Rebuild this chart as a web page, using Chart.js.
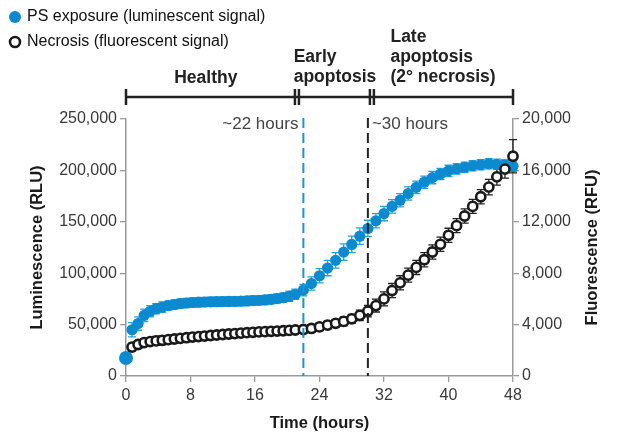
<!DOCTYPE html>
<html>
<head>
<meta charset="utf-8">
<script src="https://cdn.jsdelivr.net/npm/chart.js@4"></script>
<style>
  html, body { margin: 0; padding: 0; background: #fff; }
  #wrap { width: 617px; height: 434px; position: relative; }
</style>
</head>
<body>
<div id="wrap"><canvas id="grafico"></canvas></div>
<script>
// tempo de leitura (horas)
const horas = [0, 0.75, 1.5, 2.25, 3, 3.75, 4.5, 5.25, 6, 6.75, 7.5, 8.25, 9, 9.75, 10.5, 11.25,
  12, 12.75, 13.5, 14.25, 15, 15.75, 16.5, 17.25, 18, 18.75, 19.5, 20.25, 21,
  22, 23, 24, 25, 26, 27, 28, 29, 30, 31, 32, 33, 34, 35, 36, 37, 38, 39, 40,
  41, 42, 43, 44, 45, 46, 47, 48];

// PS exposure (RLU)
const luminescencia = [17500, 45000, 51000, 59000, 63000, 65500, 67000, 68500, 69500, 70500, 71000, 71500, 71800, 72000, 72200, 72300,
  72400, 72500, 72600, 72800, 73000, 73300, 73600, 74000, 74600, 75300, 76200, 77500, 79500,
  83500, 90000, 97500, 105000, 112500, 120500, 128000, 136000, 143500, 151000, 158000, 165000, 171000, 177500, 183500, 188500, 193000, 196500, 199500,
  201500, 203000, 204500, 205500, 206500, 206000, 205000, 204000];
const erroLum = [0, 7000, 6500, 6000, 5500, 5000, 5000, 4500, 4500, 4500, 4500, 4500, 4500, 4500, 4500, 4500,
  4500, 4500, 4500, 4500, 4500, 4500, 4500, 4500, 4500, 4500, 4500, 5000, 5000,
  5500, 6500, 7000, 7500, 7500, 8000, 8000, 8000, 8000, 7000, 7000, 6500, 6500, 6500, 6000, 6000, 6000, 5500, 5500,
  5000, 5000, 5000, 5000, 5000, 5000, 5000, 5000];

// Necrosis (RFU)
const fluorescencia = [null, 2250, 2450, 2600, 2680, 2730, 2780, 2830, 2880, 2930, 2980, 3030, 3070, 3110, 3150, 3190,
  3230, 3270, 3300, 3340, 3370, 3400, 3430, 3450, 3480, 3500, 3520, 3550, 3580,
  3620, 3700, 3820, 3960, 4100, 4250, 4450, 4720, 5050, 5480, 6000, 6650, 7250, 7850, 8450, 9050, 9650, 10250, 10950,
  11700, 12450, 13200, 13950, 14700, 15500, 16100, 17100];
const erroFluor = [0, 300, 300, 300, 300, 350, 350, 300, 300, 300, 300, 300, 300, 300, 300, 250,
  250, 250, 250, 250, 250, 250, 250, 250, 250, 250, 250, 250, 250,
  300, 300, 300, 300, 300, 350, 350, 400, 450, 500, 550, 550, 550, 550, 550, 550, 550, 550, 550,
  550, 550, 550, 550, 600, 650, 700, 1300];

const ticksHoras = [0, 8, 16, 24, 32, 40, 48];
const ticksLum = [0, 50000, 100000, 150000, 200000, 250000];
const ticksFluor = [0, 4000, 8000, 12000, 16000, 20000];

// fases (horas) e marcos
const limitesFases = [0, 21.2, 30.5, 48];
const marcos = [22, 30];

const AZUL = '#0b8ad0';
const FONTE = "'Liberation Sans', Arial, sans-serif";

const fmt = v => v.toLocaleString('en-US');

// barras de erro desenhadas pelas escalas
const barrasErro = {
  id: 'barrasErro',
  beforeDatasetsDraw(chart) {
    const ctx = chart.ctx;
    const xs = chart.scales.x;
    chart.data.datasets.forEach(ds => {
      const ys = chart.scales[ds.yAxisID];
      ctx.save();
      ctx.strokeStyle = ds.corErro;
      ctx.lineWidth = 1.3;
      ds.data.forEach((p, j) => {
        const e = ds.erros[j];
        if (p.y == null || !e) return;
        const x = xs.getPixelForValue(p.x);
        const y1 = ys.getPixelForValue(p.y + e);
        const y2 = ys.getPixelForValue(p.y - e);
        ctx.beginPath();
        ctx.moveTo(x, y1); ctx.lineTo(x, y2);
        ctx.moveTo(x - 4, y1); ctx.lineTo(x + 4, y1);
        ctx.moveTo(x - 4, y2); ctx.lineTo(x + 4, y2);
        ctx.stroke();
      });
      ctx.restore();
    });
  }
};

// linhas tracejadas, fases, legenda e titulos
const anotacoes = {
  id: 'anotacoes',
  afterDatasetsDraw(chart) {
    const ctx = chart.ctx;
    const xs = chart.scales.x;
    const area = chart.chartArea;
    ctx.save();
    ctx.lineWidth = 2;
    ctx.setLineDash([10, 5]);
    ['#1a95d8', '#222'].forEach((cor, i) => {
      const x = xs.getPixelForValue(marcos[i]);
      ctx.strokeStyle = cor;
      ctx.beginPath();
      ctx.moveTo(x, area.top - 1);
      ctx.lineTo(x, area.bottom);
      ctx.stroke();
    });
    ctx.setLineDash([]);
    ctx.fillStyle = '#444';
    ctx.font = '17px ' + FONTE;
    ctx.textBaseline = 'middle';
    ctx.textAlign = 'right';
    ctx.fillText('~' + marcos[0] + ' hours', xs.getPixelForValue(marcos[0]) - 5, 124);
    ctx.textAlign = 'left';
    ctx.fillText('~' + marcos[1] + ' hours', xs.getPixelForValue(marcos[1]) + 4, 124);
    ctx.restore();
  },
  afterDraw(chart) {
    const ctx = chart.ctx;
    const xs = chart.scales.x;
    const area = chart.chartArea;
    ctx.save();
    // barra das fases
    const yb = 97;
    ctx.strokeStyle = '#222';
    ctx.lineWidth = 2.5;
    ctx.beginPath();
    ctx.moveTo(xs.getPixelForValue(limitesFases[0]), yb);
    ctx.lineTo(xs.getPixelForValue(limitesFases[3]), yb);
    ctx.stroke();
    limitesFases.forEach((h, i) => {
      const x = xs.getPixelForValue(h);
      const dx = (i === 0 || i === limitesFases.length - 1) ? [0] : [-2, 2];
      dx.forEach(d => {
        ctx.beginPath();
        ctx.moveTo(x + d, yb - 8);
        ctx.lineTo(x + d, yb + 8);
        ctx.stroke();
      });
    });
    ctx.fillStyle = '#222';
    ctx.font = 'bold 17.5px ' + FONTE;
    ctx.textBaseline = 'middle';
    ctx.textAlign = 'center';
    ctx.fillText('Healthy', xs.getPixelForValue(9.9), 78);
    ctx.textAlign = 'left';
    ctx.fillText('Early', xs.getPixelForValue(20.8), 57);
    ctx.fillText('apoptosis', xs.getPixelForValue(20.8), 77);
    ctx.fillText('Late', xs.getPixelForValue(32.8), 37);
    ctx.fillText('apoptosis', xs.getPixelForValue(32.8), 57);
    ctx.fillText('(2\u00b0 necrosis)', xs.getPixelForValue(32.8), 77);

    // legenda
    ctx.fillStyle = AZUL;
    ctx.beginPath();
    ctx.arc(15, 17, 6, 0, Math.PI * 2);
    ctx.fill();
    ctx.strokeStyle = '#1a1a1a';
    ctx.lineWidth = 2.6;
    ctx.beginPath();
    ctx.arc(15, 42, 5, 0, Math.PI * 2);
    ctx.stroke();
    ctx.fillStyle = '#111';
    ctx.font = '16px ' + FONTE;
    ctx.fillText('PS exposure (luminescent signal)', 27, 17);
    ctx.fillText('Necrosis (fluorescent signal)', 27, 42);

    // titulos dos eixos
    ctx.font = 'bold 16.5px ' + FONTE;
    ctx.fillStyle = '#1a1a1a';
    ctx.textAlign = 'center';
    ctx.fillText('Time (hours)', (area.left + area.right) / 2, 423);
    const meio = (area.top + area.bottom) / 2;
    [[37, 'Luminescence (RLU)'], [592, 'Fluorescence (RFU)']].forEach(([x, t]) => {
      ctx.save();
      ctx.translate(x, meio);
      ctx.rotate(-Math.PI / 2);
      ctx.fillText(t, 0, 0);
      ctx.restore();
    });
    ctx.restore();
  }
};

const eixo = {
  grid: { drawOnChartArea: false, drawTicks: true, tickLength: 6, color: '#9a9a9a', lineWidth: 1.3 },
  border: { color: '#9a9a9a', width: 1.5 },
  ticks: { color: '#3a3a3a', font: { family: FONTE, size: 16 }, padding: 3 }
};

new Chart(document.getElementById('grafico'), {
  type: 'scatter',
  data: {
    datasets: [
      {
        label: 'Necrosis (fluorescent signal)',
        data: horas.map((h, i) => ({ x: h, y: fluorescencia[i] })),
        erros: erroFluor,
        corErro: '#222',
        yAxisID: 'yF',
        pointRadius: 4.6,
        pointBorderWidth: 2.6,
        pointBackgroundColor: '#fff',
        pointBorderColor: '#1a1a1a',
        clip: false,
        order: 1
      },
      {
        label: 'PS exposure (luminescent signal)',
        data: horas.map((h, i) => ({ x: h, y: luminescencia[i] })),
        erros: erroLum,
        corErro: '#2b9fdd',
        yAxisID: 'yL',
        pointRadius: c => c.dataIndex === 0 ? 7 : 5.6,
        pointBorderWidth: 0,
        pointBackgroundColor: AZUL,
        clip: false,
        order: 2
      }
    ]
  },
  options: {
    responsive: true,
    maintainAspectRatio: false,
    animation: false,
    layout: { padding: { top: 119, bottom: 0, left: 0, right: 0 } },
    plugins: { legend: { display: false }, tooltip: { enabled: false } },
    scales: {
      x: {
        ...eixo,
        type: 'linear', min: 0, max: 48,
        afterBuildTicks: s => { s.ticks = ticksHoras.map(v => ({ value: v })); },
        afterFit: s => { s.height = 58; },
        ticks: { ...eixo.ticks, padding: 4 }
      },
      yL: {
        ...eixo,
        position: 'left', min: 0, max: 250000,
        afterBuildTicks: s => { s.ticks = ticksLum.map(v => ({ value: v })); },
        afterFit: s => { s.width = 126; },
        ticks: { ...eixo.ticks, callback: fmt }
      },
      yF: {
        ...eixo,
        position: 'right', min: 0, max: 20000,
        afterBuildTicks: s => { s.ticks = ticksFluor.map(v => ({ value: v })); },
        afterFit: s => { s.width = 104; },
        ticks: { ...eixo.ticks, callback: fmt }
      }
    }
  },
  plugins: [barrasErro, anotacoes]
});
</script>
</body>
</html>
